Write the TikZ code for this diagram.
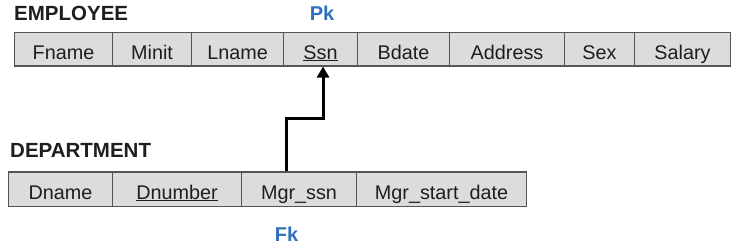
\documentclass[tikz,border=0pt]{standalone}
\usepackage{fontspec}
\setmainfont{Liberation Sans}
\usetikzlibrary{arrows.meta}
\definecolor{cellfill}{RGB}{220,220,220}
\definecolor{cellline}{RGB}{85,85,85}
\definecolor{keyblue}{RGB}{46,112,190}
\definecolor{txt}{RGB}{30,30,30}
\begin{document}
\begin{tikzpicture}[x=1bp,y=-1bp,
  cell/.style={draw=cellline, fill=cellfill, line width=1.1bp, anchor=west,
    inner sep=0pt, text=txt, text height=19.5bp, text depth=0bp,
    font=\fontsize{19.8bp}{23bp}\selectfont},
  ecell/.style={cell, minimum height=33.5bp},
  dcell/.style={cell, minimum height=34.5bp},
  title/.style={anchor=base west, inner sep=0pt, text=txt,
    font=\fontsize{20.5bp}{24bp}\selectfont\bfseries},
  keylabel/.style={anchor=base, inner sep=0pt, text=keyblue,
    font=\fontsize{20bp}{24bp}\selectfont\bfseries},
  fkarrow/.style={line width=3bp, -{Triangle[length=11bp,width=12bp]}}]
\useasboundingbox (0,0) rectangle (738,250);
% EMPLOYEE
\node[title] (emp) at (14,20) {EMPLOYEE};
\node[keylabel] (pk) at (322,20.7) {Pk};
\node[ecell, minimum width=98bp] (fname) at (14,49.25) {Fname};
\node[ecell, minimum width=79bp] (minit) at (112,49.25) {Minit};
\node[ecell, minimum width=92bp] (lname) at (191,49.25) {Lname};
\node[ecell, minimum width=74bp] (ssn) at (283,49.25) {\underline{Ssn}};
\node[ecell, minimum width=92bp] (bdate) at (357,49.25) {Bdate};
\node[ecell, minimum width=115bp] (address) at (449,49.25) {Address};
\node[ecell, minimum width=70bp] (sex) at (564,49.25) {Sex};
\node[ecell, minimum width=96bp] (salary) at (634,49.25) {Salary};
% DEPARTMENT
\node[title] (dept) at (10,157) {DEPARTMENT};
\node[dcell, minimum width=104bp] (dname) at (8,189.25) {Dname};
\node[dcell, minimum width=129bp] (dnumber) at (112,189.25) {\underline{Dnumber}};
\node[dcell, minimum width=115bp] (mgr) at (241,189.25) {Mgr\_ssn};
\node[dcell, minimum width=170bp] (mgrdate) at (356,189.25) {Mgr\_start\_date};
\node[keylabel] (fk) at (286.5,241.5) {Fk};
% foreign key arrow
\draw[fkarrow] ([xshift=-12.5bp]mgr.north) -- ++(0,-53) -| ([xshift=2.5bp]ssn.south);
\end{tikzpicture}
\end{document}
